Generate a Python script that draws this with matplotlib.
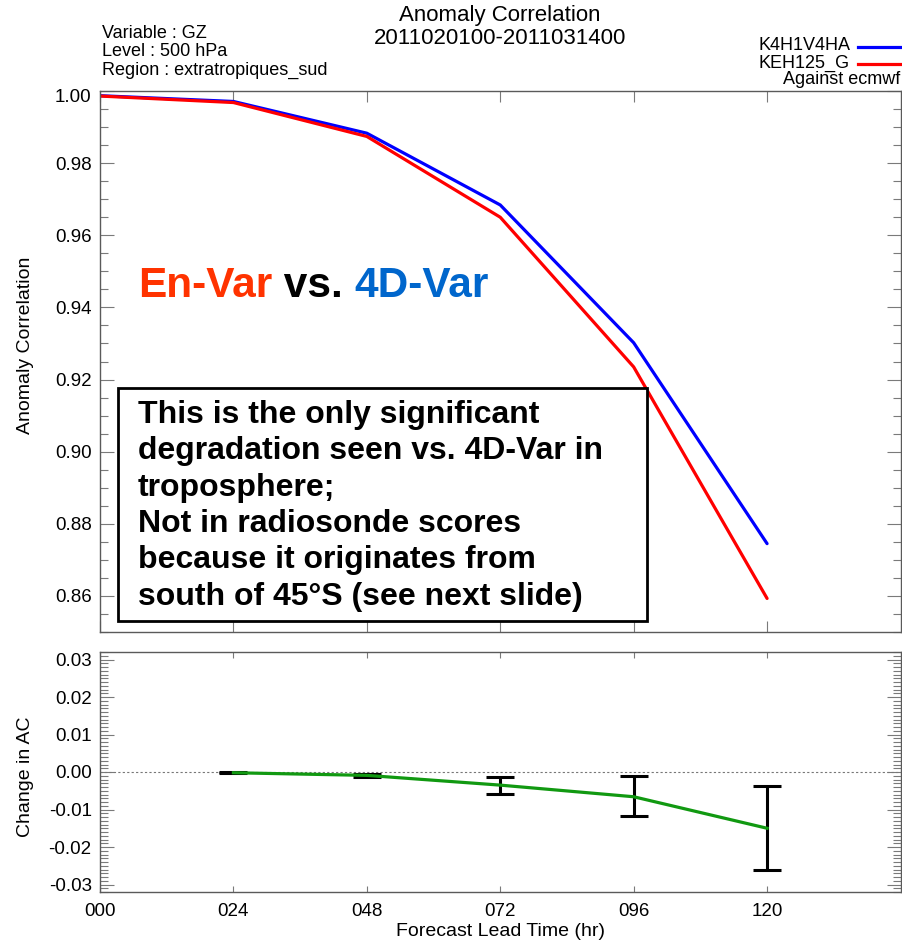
import matplotlib
matplotlib.use("Agg")
import matplotlib.pyplot as plt
import matplotlib.transforms as mtransforms
from matplotlib.ticker import MultipleLocator, FixedLocator, FormatStrFormatter
from matplotlib.patches import Rectangle

plt.rcParams['font.family'] = ['Liberation Sans', 'DejaVu Sans']

# ---------------- data ----------------
hours = [0, 24, 48, 72, 96, 120]
ac_k4h1v4ha = [0.9987, 0.9971, 0.9883, 0.9684, 0.9302, 0.8745]
ac_keh125g = [0.9986, 0.9968, 0.9874, 0.9650, 0.9235, 0.8593]

diff_hours = [24, 48, 72, 96, 120]
diff_ac = [-0.0002, -0.0009, -0.0035, -0.0066, -0.0150]
diff_low = [-0.0003, -0.0013, -0.0058, -0.0118, -0.0262]
diff_high = [-0.0001, -0.0005, -0.0012, -0.0010, -0.0037]

xtick_labels = ["000", "024", "048", "072", "096", "120"]
series_names = ["K4H1V4HA", "KEH125_G"]
header_left = ["Variable : GZ", "Level : 500 hPa", "Region : extratropiques_sud"]
title_lines = ["Anomaly Correlation", "2011020100-2011031400"]
box_lines = ["This is the only significant",
             "degradation seen vs. 4D-Var in",
             "troposphere;",
             "Not in radiosonde scores",
             "because it originates from",
             "south of 45°S (see next slide)"]

W, H = 902, 942
fig = plt.figure(figsize=(W / 100, H / 100), dpi=100)

def fx(px):
    return px / W

def fy(py):
    return 1 - py / H

L, R = 100, 900.5
ax1 = fig.add_axes([fx(L), fy(632), fx(R - L), fy(91) - fy(632)])
ax2 = fig.add_axes([fx(L), fy(892), fx(R - L), fy(652) - fy(892)])

spine_col = '#5a5a5a'
tick_col = '#7a7a7a'
tick_fs = 13.5

for ax in (ax1, ax2):
    for s in ax.spines.values():
        s.set_color(spine_col)
        s.set_linewidth(1.0)
    ax.set_xlim(0, 144)
    ax.xaxis.set_major_locator(FixedLocator(hours))
    ax.tick_params(which='both', direction='in', colors=tick_col,
                   labelcolor='black', labelsize=tick_fs, width=0.8,
                   top=True, right=True)

# ---- top panel ----
ax1.plot(hours, ac_k4h1v4ha, color='#0000ff', lw=2.3, solid_capstyle='round')
ax1.plot(hours, ac_keh125g, color='#ff0000', lw=2.3, solid_capstyle='round')
ax1.set_ylim(0.85, 1.0)
ax1.yaxis.set_major_locator(MultipleLocator(0.02))
ax1.yaxis.set_minor_locator(MultipleLocator(0.005))
ax1.yaxis.set_major_formatter(FormatStrFormatter('%.2f'))
ax1.tick_params(axis='y', which='major', length=10, pad=6)
ax1.tick_params(axis='y', which='minor', length=6)
ax1.tick_params(axis='x', which='major', length=8, labelbottom=False)
ax1.set_ylabel("Anomaly Correlation", fontsize=14)
ax1.yaxis.set_label_coords(-0.083, 0.53)

fig.canvas.draw()
# the top label sits slightly below its tick in the reference
for lab in ax1.get_yticklabels():
    if lab.get_text() == "1.00":
        lab.set_transform(lab.get_transform() +
                          mtransforms.ScaledTranslation(0, -5 / 100, fig.dpi_scale_trans))

# En-Var vs 4D-Var
r = fig.canvas.get_renderer()
big_fs = 30.5
t1 = fig.text(fx(138), fy(286), "En-Var", fontsize=big_fs, fontweight='bold',
              color='#ff3300', va='center', ha='left')
bb = t1.get_window_extent(r)
t2 = fig.text(bb.x1 / W, fy(286), " vs. ", fontsize=big_fs, fontweight='bold',
              color='black', va='center', ha='left')
bb2 = t2.get_window_extent(r)
fig.text(bb2.x1 / W, fy(286), "4D-Var", fontsize=big_fs, fontweight='bold',
         color='#0066cc', va='center', ha='left')

# box
fig.add_artist(Rectangle((fx(118), fy(621)), fx(647 - 118), fy(388) - fy(621),
                         transform=fig.transFigure, fill=True, facecolor='white',
                         edgecolor='black', linewidth=2.0, zorder=5))
for i, line in enumerate(box_lines):
    fig.text(fx(138), fy(415 + i * 36.3), line, fontsize=23, fontweight='bold',
             color='black', va='center', ha='left', zorder=6)

# ---- bottom panel ----
ax2.axhline(0, color='#777777', lw=0.8, ls=(0, (2, 2)))
yerr = [[d - lo for d, lo in zip(diff_ac, diff_low)],
        [hi - d for d, hi in zip(diff_ac, diff_high)]]
ax2.errorbar(diff_hours, diff_ac, yerr=yerr, fmt='none', ecolor='black',
             elinewidth=2.2, capsize=10, capthick=2.2, zorder=3)
ax2.plot(diff_hours, diff_ac, color='#119911', lw=2.3, zorder=4)
ax2.set_ylim(-0.032, 0.032)
ax2.yaxis.set_major_locator(MultipleLocator(0.01))
ax2.yaxis.set_minor_locator(MultipleLocator(0.001))
ax2.yaxis.set_major_formatter(FormatStrFormatter('%.2f'))
ax2.tick_params(axis='y', which='major', length=10, pad=6)
ax2.tick_params(axis='y', which='minor', length=6)
ax2.tick_params(axis='x', which='major', length=4, pad=8)
ax2.set_xticklabels(xtick_labels)
ax2.set_ylabel("Change in AC", fontsize=14)
ax2.yaxis.set_label_coords(-0.083, 0.48)
ax2.set_xlabel("Forecast Lead Time (hr)", fontsize=14, labelpad=2)

# ---- header ----
fig.text(fx(500), fy(16), title_lines[0], fontsize=16, ha='center', va='center')
fig.text(fx(500), fy(39), title_lines[1], fontsize=16, ha='center', va='center')
for i, line in enumerate(header_left):
    fig.text(fx(102), fy(34 + i * 18), line, fontsize=13, ha='left', va='center')

legend_y = [46, 63]
legend_cols = ['#0000ff', '#ff0000']
for name, yy, c in zip(series_names, legend_y, legend_cols):
    fig.text(fx(850), fy(yy), name, fontsize=13, ha='right', va='center')
    fig.add_artist(plt.Line2D([fx(858), fx(901)], [fy(yy + 1), fy(yy + 1)],
                              transform=fig.transFigure, color=c, lw=2.3))
fig.text(fx(900), fy(80), "Against ecmwf", fontsize=13, ha='right', va='center')

fig.savefig("out.png", dpi=100)
